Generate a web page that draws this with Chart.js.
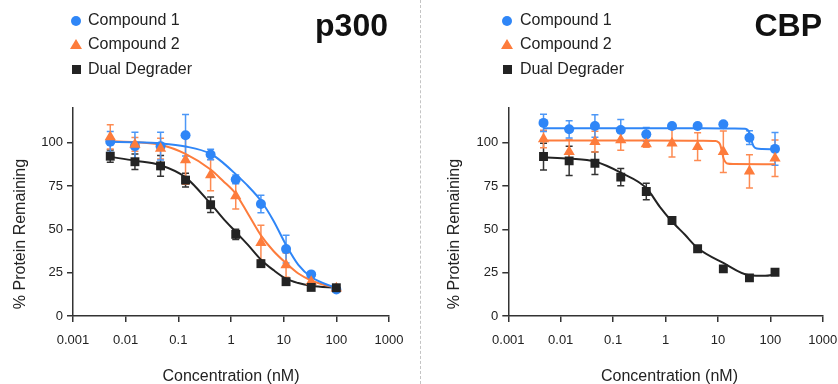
<!DOCTYPE html>
<html>
<head>
<meta charset="utf-8">
<script src="https://cdn.jsdelivr.net/npm/chart.js@4.4.0/dist/chart.umd.min.js"></script>
<style>
  body { margin: 0; background: #fff; font-family: "Liberation Sans", Arial, sans-serif; color: #222; }
  #wrap { position: relative; width: 838px; height: 384px; overflow: hidden; }
  .panel { position: absolute; top: 0; height: 384px; }
  #left { left: 0; width: 420px; }
  #right { left: 420px; width: 418px; }
  #sep { position: absolute; left: 420px; top: 0; height: 384px; border-left: 1px dashed #c4c4c4; }
  .panel canvas { position: absolute; left: 0; top: 0; }
  .txt { position: absolute; white-space: nowrap; }
  .leg { font-size: 16px; line-height: 16px; }
  .ptitle { font-size: 32px; line-height: 32px; font-weight: bold; color: #111; text-align: right; }
  .xtitle { font-size: 16px; line-height: 16px; text-align: center; }
  .ytitle { font-size: 16px; line-height: 16px; text-align: center; transform: rotate(-90deg); }
  .mk { position: absolute; }
</style>
</head>
<body>
<div id="wrap">
  <div class="panel" id="left"><canvas id="c1" width="420" height="384"></canvas></div>
  <div class="panel" id="right"><canvas id="c2" width="418" height="384"></canvas></div>
  <div id="sep"></div>
</div>
<script>
const xTickValues = [0.001, 0.01, 0.1, 1, 10, 100, 1000];
const xTickLabels = ['0.001', '0.01', '0.1', '1', '10', '100', '1000'];
const yTickValues = [0, 25, 50, 75, 100];
const seriesNames = ['Compound 1', 'Compound 2', 'Dual Degrader'];

// p300 panel
const p300Dose = [0.0051, 0.015, 0.046, 0.137, 0.41, 1.23, 3.7, 11.1, 33.3, 100];
const p300Cmpd1 = [100.5, 98, 98, 104.3, 93.2, 78.8, 64.6, 38.6, 24, 15.3];
const p300Cmpd1Err = [6, 8, 8, 12, 3, 2.5, 5, 8, 1.5, 1];
const p300Cmpd2 = [103.3, 99, 96.6, 90, 81.3, 69.3, 42.3, 29.4, 19.8, 16];
const p300Cmpd2Err = [7, 4, 6, 14, 9, 7.5, 10, 7, 2, 1];
const p300Dual = [92.2, 89, 86.6, 78.4, 64.2, 47.1, 30.2, 19.8, 16.5, 16.3];
const p300DualErr = [3.5, 4.5, 6, 4, 4.5, 3, 1.5, 1.5, 1, 1];

// p300 fitted curves
const p300FitDose = [0.0051, 0.015, 0.046, 0.137, 0.41, 0.7, 1.23, 2.1, 3.7, 6.4, 11.1, 19, 33.3, 100];
const p300Fit1 = [100.5, 100.3, 99.6, 97.8, 93.6, 88.5, 81.8, 75, 66.5, 55, 41, 29.5, 22.5, 16];
const p300Fit2 = [100.8, 100.3, 98.8, 93.5, 84.5, 78, 70.5, 59, 46.5, 37.5, 30.5, 24.5, 20.5, 16];
const p300Fit3 = [91.8, 89.6, 87, 80, 64.8, 56.5, 48.5, 41, 32.5, 26.5, 21.5, 19, 17.5, 16.2];

// CBP panel
const cbpDose = [0.0047, 0.0145, 0.045, 0.14, 0.43, 1.33, 4.1, 12.7, 40, 123];
const cbpCmpd1 = [111.4, 107.7, 109.6, 107.3, 104.8, 109.6, 109.6, 110.6, 102.9, 96.4];
const cbpCmpd1Err = [5, 5, 6.5, 6, 4, 1, 1, 1, 4, 9.4];
const cbpCmpd2 = [102.1, 94.8, 100.6, 101.6, 99.3, 99.7, 97.7, 94.8, 83.5, 91];
const cbpCmpd2Err = [5, 7, 6, 6, 2, 8, 8, 12, 9.6, 10.5];
const cbpDual = [92, 89.5, 88.1, 80.1, 71.8, 55.1, 38.8, 27.2, 22, 25.2];
const cbpDualErr = [7.7, 8.5, 6.5, 5, 4.8, 1.5, 1.5, 1.5, 1.5, 1];

// CBP fitted curves
const cbpFit1Dose = [0.0047, 0.05, 0.5, 5, 20, 33, 37, 40, 44, 48, 55, 70, 123];
const cbpFit1 = [108.3, 108.3, 108.3, 108.3, 108.2, 108, 107.3, 105.5, 101, 98, 96.6, 96.3, 96.2];
const cbpFit2Dose = [0.0047, 0.05, 0.5, 5, 9, 10.2, 11.1, 12, 12.8, 13.8, 15, 20, 123];
const cbpFit2 = [101.2, 101.2, 101.2, 101.1, 100.9, 100.3, 98.7, 94.5, 91, 89, 88, 87.7, 87.6];
const cbpFit3Dose = [0.0047, 0.0145, 0.045, 0.14, 0.43, 0.78, 1.33, 2.33, 4.1, 12.7, 40, 80, 123];
const cbpFit3 = [91.6, 90.8, 89.1, 82.7, 73.8, 63, 54.5, 47, 39.2, 30.6, 23.5, 23.2, 24];

const colors = ['#2f86f7', '#fd7c3c', '#232323'];
const barColors = ['#4c97f7', '#fd8b52', '#333333'];
const pointStyles = ['circle', 'triangle', 'rect'];
const pointSizes = [5, 6.5, 6.3];

Chart.defaults.font.family = '"Liberation Sans", Arial, sans-serif';
Chart.defaults.font.size = 13;
Chart.defaults.color = '#222';

const toXY = (xs, ys) => xs.map((x, i) => ({ x: x, y: ys[i] }));

const errorBars = {
  id: 'errorBars',
  beforeDatasetsDraw(chart) {
    const { ctx, scales } = chart;
    chart.data.datasets.forEach(ds => {
      if (!ds.errors) return;
      ctx.save();
      ctx.strokeStyle = ds.barColor;
      ctx.lineWidth = 1.5;
      ds.data.forEach((p, i) => {
        const e = ds.errors[i];
        const px = scales.x.getPixelForValue(p.x);
        const top = scales.y.getPixelForValue(p.y + e);
        const bot = scales.y.getPixelForValue(p.y - e);
        ctx.beginPath();
        ctx.moveTo(px, top); ctx.lineTo(px, bot);
        ctx.moveTo(px - 3.5, top); ctx.lineTo(px + 3.5, top);
        ctx.moveTo(px - 3.5, bot); ctx.lineTo(px + 3.5, bot);
        ctx.stroke();
      });
      ctx.restore();
    });
  }
};

function makePanel(canvasId, dose, means, errs, fitDoses, fits, leftWidth, rightPad) {
  const datasets = [];
  // points first so they sit on top of the curves
  [2, 1, 0].forEach(k => {
    datasets.push({
      label: seriesNames[k],
      data: toXY(dose, means[k]),
      errors: errs[k],
      barColor: barColors[k],
      pointStyle: pointStyles[k],
      pointRadius: pointSizes[k],
      pointHoverRadius: pointSizes[k],
      backgroundColor: colors[k],
      borderColor: colors[k],
      borderWidth: 0,
      showLine: false
    });
  });
  [0, 1, 2].forEach(k => {
    datasets.push({
      label: seriesNames[k] + ' fit',
      data: toXY(fitDoses[k], fits[k]),
      showLine: true,
      pointRadius: 0,
      borderColor: colors[k],
      borderWidth: 2,
      cubicInterpolationMode: 'monotone',
      fill: false
    });
  });

  return new Chart(document.getElementById(canvasId), {
    type: 'scatter',
    data: { datasets: datasets },
    plugins: [errorBars],
    options: {
      responsive: false,
      animation: false,
      layout: { padding: { left: 0, right: rightPad, top: 108, bottom: 0 } },
      plugins: { legend: { display: false }, tooltip: { enabled: false } },
      scales: {
        x: {
          type: 'logarithmic',
          min: 0.001,
          max: 1000,
          afterBuildTicks: s => { s.ticks = xTickValues.map(v => ({ value: v })); },
          afterFit: s => { s.height = 68; s.paddingLeft = 0; s.paddingRight = 0; },
          ticks: { autoSkip: false, maxRotation: 0, padding: 11, callback: (v, i) => xTickLabels[i] },
          grid: { drawOnChartArea: false, drawTicks: true, tickLength: 6, color: '#333', lineWidth: 1.5 },
          border: { color: '#333', width: 1.5 }
        },
        y: {
          min: 0,
          max: 120,
          afterBuildTicks: s => { s.ticks = yTickValues.map(v => ({ value: v })); },
          afterFit: s => { s.width = leftWidth; },
          ticks: { padding: 4 },
          grid: { drawOnChartArea: false, drawTicks: true, tickLength: 6, color: '#333', lineWidth: 1.5 },
          border: { color: '#333', width: 1.5 }
        }
      }
    }
  });
}

function addText(panelId, cls, text, css) {
  const d = document.createElement('div');
  d.className = 'txt ' + cls;
  d.textContent = text;
  Object.assign(d.style, css);
  document.getElementById(panelId).appendChild(d);
  return d;
}

function addLegend(panelId, markerX, textX) {
  const rowsY = [20.5, 44.5, 69];
  seriesNames.forEach((name, k) => {
    const m = document.createElement('div');
    m.className = 'mk';
    const cy = rowsY[k];
    if (k === 0) {
      Object.assign(m.style, { left: (markerX - 5) + 'px', top: (cy - 5) + 'px', width: '10px', height: '10px', borderRadius: '50%', background: colors[0] });
    } else if (k === 1) {
      Object.assign(m.style, { left: (markerX - 6) + 'px', top: (cy - 5.5) + 'px', width: 0, height: 0, borderLeft: '6px solid transparent', borderRight: '6px solid transparent', borderBottom: '10px solid ' + colors[1] });
    } else {
      Object.assign(m.style, { left: (markerX - 4.5) + 'px', top: (cy - 4.5) + 'px', width: '9px', height: '9px', background: colors[2] });
    }
    document.getElementById(panelId).appendChild(m);
    addText(panelId, 'leg', name, { left: textX + 'px', top: (cy - 8.5) + 'px' });
  });
}

function addAxisTitles(panelId, xCenter, yCenterX) {
  addText(panelId, 'xtitle', 'Concentration (nM)', { left: (xCenter - 100) + 'px', width: '200px', top: '367.5px' });
  addText(panelId, 'ytitle', '% Protein Remaining', { left: (yCenterX - 100) + 'px', width: '200px', top: (234 - 8) + 'px' });
}

makePanel('c1', p300Dose, [p300Cmpd1, p300Cmpd2, p300Dual], [p300Cmpd1Err, p300Cmpd2Err, p300DualErr],
  [p300FitDose, p300FitDose, p300FitDose], [p300Fit1, p300Fit2, p300Fit3], 73, 31);
makePanel('c2', cbpDose, [cbpCmpd1, cbpCmpd2, cbpDual], [cbpCmpd1Err, cbpCmpd2Err, cbpDualErr],
  [cbpFit1Dose, cbpFit2Dose, cbpFit3Dose], [cbpFit1, cbpFit2, cbpFit3], 88.3, 15.3);

addLegend('left', 76, 88);
addLegend('right', 87.3, 100);
addText('left', 'ptitle', 'p300', { right: '32px', top: '9px' });
addText('right', 'ptitle', 'CBP', { right: '16px', top: '9px' });
addAxisTitles('left', 231, 19.5);
addAxisTitles('right', 249.5, 33.5);
</script>
</body>
</html>
